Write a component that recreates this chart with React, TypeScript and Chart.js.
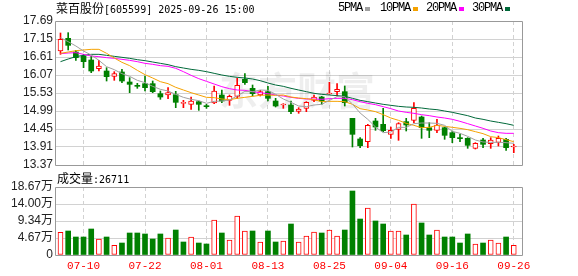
import React, { useEffect, useRef } from 'react';
import { Chart, registerables } from 'chart.js';
Chart.register(...registerables);

const dates = [
  '2025-07-07','2025-07-08','2025-07-09','2025-07-10','2025-07-11','2025-07-14','2025-07-15','2025-07-16','2025-07-17','2025-07-18',
  '2025-07-21','2025-07-22','2025-07-23','2025-07-24','2025-07-25','2025-07-28','2025-07-29','2025-07-30','2025-07-31','2025-08-01',
  '2025-08-04','2025-08-05','2025-08-06','2025-08-07','2025-08-08','2025-08-11','2025-08-12','2025-08-13','2025-08-14','2025-08-15',
  '2025-08-18','2025-08-19','2025-08-20','2025-08-21','2025-08-22','2025-08-25','2025-08-26','2025-08-27','2025-08-28','2025-08-29',
  '2025-09-01','2025-09-02','2025-09-03','2025-09-04','2025-09-05','2025-09-08','2025-09-09','2025-09-10','2025-09-11','2025-09-12',
  '2025-09-15','2025-09-16','2025-09-17','2025-09-18','2025-09-19','2025-09-22','2025-09-23','2025-09-24','2025-09-25','2025-09-26',
];

const opens = [
  16.79, 17.17, 16.76, 16.64, 16.52, 16.26, 16.19, 16.03, 16.16, 15.86,
  15.74, 15.81, 15.81, 15.51, 15.47, 15.48, 15.22, 15.19, 15.27, 15.13,
  15.23, 15.47, 15.31, 15.43, 15.94, 15.67, 15.47, 15.57, 15.29, 15.17,
  15.17, 14.98, 15.07, 15.31, 15.41, 15.50, 15.57, 15.57, 14.77, 14.15,
  14.07, 14.69, 14.59, 14.29, 14.44, 14.67, 14.71, 14.81, 14.49, 14.41,
  14.49, 14.34, 14.17, 14.17, 13.87, 14.12, 14.01, 14.05, 14.14, 13.91,
];
const highs = [
  17.33, 17.34, 16.81, 16.69, 16.64, 16.51, 16.29, 16.17, 16.24, 15.99,
  15.82, 16.04, 15.89, 15.59, 15.69, 15.58, 15.31, 15.41, 15.29, 15.19,
  15.74, 15.62, 15.47, 15.97, 16.11, 15.77, 15.61, 15.73, 15.37, 15.21,
  15.29, 15.09, 15.27, 15.47, 15.43, 15.85, 15.81, 15.74, 14.77, 14.19,
  14.59, 14.77, 15.07, 14.51, 14.64, 14.77, 15.24, 14.84, 14.64, 14.74,
  14.51, 14.39, 14.29, 14.19, 14.04, 14.17, 14.19, 14.24, 14.17, 13.99,
];
const lows = [
  16.69, 16.82, 16.51, 16.29, 16.14, 16.19, 15.89, 15.91, 15.84, 15.54,
  15.67, 15.59, 15.54, 15.34, 15.36, 15.09, 15.09, 15.04, 15.01, 15.07,
  15.21, 15.24, 15.16, 15.37, 15.79, 15.44, 15.44, 15.29, 15.11, 15.07,
  14.91, 14.92, 14.97, 15.27, 15.19, 15.49, 15.44, 15.14, 13.91, 13.89,
  13.89, 14.41, 14.37, 14.17, 14.11, 14.39, 14.64, 14.17, 14.19, 14.34,
  14.14, 14.04, 14.07, 13.87, 13.85, 13.89, 13.87, 13.94, 13.81, 13.74,
];
const closes = [
  17.14, 16.96, 16.59, 16.47, 16.19, 16.34, 16.02, 16.11, 15.89, 15.79,
  15.73, 15.69, 15.57, 15.41, 15.54, 15.25, 15.23, 15.29, 15.19, 15.12,
  15.59, 15.29, 15.43, 15.76, 15.84, 15.51, 15.57, 15.37, 15.14, 15.18,
  14.97, 15.05, 15.25, 15.41, 15.29, 15.53, 15.64, 15.24, 14.29, 13.95,
  14.56, 14.51, 14.40, 14.41, 14.61, 14.57, 15.07, 14.49, 14.41, 14.57,
  14.26, 14.19, 14.16, 13.96, 14.02, 13.99, 14.12, 14.17, 13.89, 13.92,
];
const volumes = [
  62300, 65900, 49400, 49400, 71400, 43900, 49400, 26600, 32900, 60400,
  60400, 57700, 43900, 57700, 46700, 68600, 35700, 49400, 32900, 30200,
  96100, 60400, 41200, 107100, 65900, 65900, 35700, 65900, 35700, 38400,
  85100, 35700, 52200, 63100, 60400, 68600, 52200, 68600, 175700, 98800,
  129000, 93400, 85100, 65900, 65900, 54900, 140000, 87900, 54900, 68600,
  49400, 49400, 32900, 57700, 30200, 32900, 41200, 32900, 49400, 26711,
];
const ma5 = [
  17.19, 17.07, 16.94, 16.79, 16.67, 16.51, 16.32, 16.23, 16.11, 16.03,
  15.91, 15.84, 15.73, 15.64, 15.59, 15.49, 15.40, 15.34, 15.30, 15.22,
  15.28, 15.29, 15.32, 15.44, 15.58, 15.57, 15.62, 15.61, 15.49, 15.35,
  15.25, 15.14, 15.12, 15.17, 15.19, 15.31, 15.42, 15.42, 15.20, 14.93,
  14.74, 14.51, 14.34, 14.36, 14.50, 14.50, 14.61, 14.63, 14.63, 14.62,
  14.56, 14.38, 14.32, 14.23, 14.12, 14.06, 14.05, 14.05, 14.04, 14.02,
];
const ma10 = [
  16.72, 16.76, 16.80, 16.82, 16.84, 16.84, 16.72, 16.58, 16.45, 16.35,
  16.21, 16.08, 15.98, 15.87, 15.81, 15.70, 15.62, 15.54, 15.47, 15.40,
  15.39, 15.35, 15.33, 15.37, 15.40, 15.43, 15.46, 15.47, 15.46, 15.47,
  15.41, 15.38, 15.36, 15.33, 15.27, 15.28, 15.28, 15.27, 15.19, 15.06,
  15.02, 14.97, 14.88, 14.78, 14.71, 14.62, 14.56, 14.49, 14.50, 14.56,
  14.53, 14.50, 14.47, 14.43, 14.37, 14.31, 14.22, 14.19, 14.13, 14.07,
];
const ma20 = [
  16.71, 16.73, 16.74, 16.69, 16.64, 16.62, 16.59, 16.57, 16.54, 16.51,
  16.47, 16.42, 16.39, 16.35, 16.33, 16.27, 16.17, 16.06, 15.96, 15.88,
  15.80, 15.72, 15.66, 15.62, 15.61, 15.57, 15.54, 15.51, 15.47, 15.44,
  15.40, 15.37, 15.35, 15.35, 15.34, 15.36, 15.37, 15.37, 15.33, 15.27,
  15.22, 15.18, 15.12, 15.06, 14.99, 14.95, 14.92, 14.88, 14.85, 14.81,
  14.78, 14.74, 14.68, 14.61, 14.54, 14.47, 14.39, 14.34, 14.32, 14.32,
];
const ma30 = [
  16.47, 16.55, 16.62, 16.66, 16.69, 16.69, 16.66, 16.63, 16.60, 16.57,
  16.53, 16.50, 16.46, 16.42, 16.38, 16.32, 16.28, 16.24, 16.21, 16.17,
  16.12, 16.07, 16.03, 16.00, 15.98, 15.95, 15.90, 15.83, 15.77, 15.73,
  15.67, 15.62, 15.57, 15.52, 15.49, 15.47, 15.45, 15.43, 15.37, 15.31,
  15.27, 15.23, 15.19, 15.16, 15.13, 15.11, 15.10, 15.08, 15.05, 15.03,
  14.99, 14.95, 14.90, 14.85, 14.78, 14.74, 14.69, 14.65, 14.61, 14.56,
];

const priceTicks = [13.37, 13.91, 14.45, 14.99, 15.53, 16.07, 16.61, 17.15, 17.69];
const volTicks = [0, 46675, 93350, 140025, 186700];
const volTickLabels = ['0', '4.67万', '9.34万', '14.00万', '18.67万'];
const dateTickIdx = [3, 11, 19, 27, 35, 43, 51, 59];
const stockName = '菜百股份';
const stockInfo = '[605599] 2025-09-26 15:00';
const volTitle = '成交量';
const lastVolume = 26711;
const maNames = ['5PMA', '10PMA', '20PMA', '30PMA'];
const watermark = '东方财富';

const RED = '#ff0000';
const GREEN = '#008000';
const MA_COLORS = ['#a0a0a0', '#f5a200', '#ff00ff', '#00693a'];
const GRID = '#d2d2d2';
const FRAME = '#999999';
const X_MIN = -0.585;
const X_MAX = 60.07;
const PLOT_RIGHT_PAD = 56;
const AXIS_W = 56;

const framePlugin = {
  id: 'frame',
  afterDraw(chart: any) {
    const { ctx, chartArea } = chart;
    const l = Math.round(chartArea.left) - 0.5;
    const t = Math.round(chartArea.top) + 0.5;
    const r = Math.round(chartArea.right) + 0.5;
    const b = Math.round(chartArea.bottom) + 0.5;
    ctx.save();
    ctx.strokeStyle = FRAME;
    ctx.lineWidth = 1;
    ctx.beginPath();
    ctx.moveTo(l, t); ctx.lineTo(r, t); ctx.lineTo(r, b); ctx.lineTo(l, b); ctx.closePath();
    ctx.stroke();
    ctx.restore();
  },
};

const watermarkPlugin = {
  id: 'watermark',
  beforeDatasetsDraw(chart: any) {
    const { ctx } = chart;
    ctx.save();
    ctx.font = 'bold 39px "Noto Sans CJK SC"';
    ctx.fillStyle = 'rgba(0,0,0,0.065)';
    ctx.textAlign = 'center';
    ctx.textBaseline = 'middle';
    ctx.fillText(watermark, 297, 90);
    ctx.restore();
  },
};

function zeroPad(scale: any) {
  scale.paddingTop = 0; scale.paddingBottom = 0; scale.paddingLeft = 0; scale.paddingRight = 0;
}

const isUp = (i: number) => closes[i] >= opens[i];
const volUp = (i: number) => (i === 0 ? isUp(0) : closes[i] >= closes[i - 1]);

function xScale(showLabels: boolean) {
  return {
    type: 'linear',
    min: X_MIN,
    max: X_MAX,
    offset: false,
    afterBuildTicks: (s: any) => { s.ticks = dateTickIdx.map((v) => ({ value: v })); },
    afterFit: (s: any) => { s.height = showLabels ? 21 : 0; zeroPad(s); },
    grid: { color: GRID, drawTicks: false, offset: false, lineWidth: 1 },
    border: { display: false, dash: [4, 3] },
    ticks: {
      display: showLabels,
      autoSkip: false,
      maxRotation: 0,
      padding: 4,
      color: RED,
      font: { family: '"Liberation Mono"', size: 11 },
      callback: (v: any) => dates[Math.round(v)].slice(5),
    },
  };
}

function PriceChart() {
  const ref = useRef<HTMLCanvasElement>(null);
  useEffect(() => {
    const mk = (arr: number[]) => arr.map((v, i) => ({ x: i, y: v }));
    const chart = new Chart(ref.current as HTMLCanvasElement, {
      type: 'bar',
      data: {
        datasets: [
          ...[ma5, ma10, ma20, ma30].map((arr, k) => ({
            type: 'line' as const,
            label: maNames[k],
            data: mk(arr),
            borderColor: MA_COLORS[k],
            borderWidth: 1,
            pointRadius: 0,
            tension: 0,
            order: 0,
          })),
          {
            type: 'bar' as const,
            label: 'body',
            data: opens.map((o, i) => ({ x: i, y: [Math.min(o, closes[i]), Math.max(o, closes[i])] })),
            backgroundColor: opens.map((_, i) => (isUp(i) ? '#ffffff' : GREEN)),
            borderColor: opens.map((_, i) => (isUp(i) ? RED : GREEN)),
            borderWidth: opens.map((_, i) => (isUp(i) ? 1 : 0)),
            borderSkipped: false,
            barThickness: 5,
            minBarLength: 1,
            grouped: false,
            order: 1,
          },
          {
            type: 'bar' as const,
            label: 'wick',
            data: lows.map((l, i) => ({ x: i, y: [l, highs[i]] })),
            backgroundColor: lows.map((_, i) => (isUp(i) ? RED : GREEN)),
            borderWidth: 0,
            barThickness: 1,
            grouped: false,
            order: 2,
          },
        ] as any,
      },
      options: {
        animation: false,
        responsive: false,
        devicePixelRatio: 1,
        layout: { padding: { top: 21, bottom: 3, left: 0, right: PLOT_RIGHT_PAD } },
        plugins: { legend: { display: false }, tooltip: { enabled: false } },
        scales: {
          x: xScale(false) as any,
          y: {
            type: 'linear',
            min: 13.37,
            max: 17.69,
            afterBuildTicks: (s: any) => { s.ticks = priceTicks.map((v) => ({ value: v })); },
            afterFit: (s: any) => { s.width = AXIS_W; zeroPad(s); },
            grid: { color: GRID, drawTicks: false, lineWidth: 1 },
            border: { display: false },
            ticks: {
              autoSkip: false,
              padding: 3,
              color: '#222',
              font: { family: '"Liberation Sans"', size: 12 },
              callback: (v: any) => Number(v).toFixed(2),
            },
          },
        },
      },
      plugins: [watermarkPlugin, framePlugin],
    } as any);
    return () => chart.destroy();
  }, []);
  return <canvas ref={ref} width={578} height={168} style={{ position: 'absolute', left: 0, top: 0, width: 578, height: 168 }} />;
}

function VolumeChart() {
  const ref = useRef<HTMLCanvasElement>(null);
  useEffect(() => {
    const chart = new Chart(ref.current as HTMLCanvasElement, {
      type: 'bar',
      data: {
        datasets: [
          {
            label: volTitle,
            data: volumes.map((v, i) => ({ x: i, y: v })),
            backgroundColor: volumes.map((_, i) => (volUp(i) ? '#ffffff' : GREEN)),
            borderColor: volumes.map((_, i) => (volUp(i) ? RED : GREEN)),
            borderWidth: volumes.map((_, i) => (volUp(i) ? 1 : 0)),
            borderSkipped: false,
            barThickness: 5,
            grouped: false,
          },
        ] as any,
      },
      options: {
        animation: false,
        responsive: false,
        devicePixelRatio: 1,
        layout: { padding: { top: 19, bottom: 0, left: 0, right: PLOT_RIGHT_PAD } },
        plugins: { legend: { display: false }, tooltip: { enabled: false } },
        scales: {
          x: xScale(true) as any,
          y: {
            type: 'linear',
            min: 0,
            max: volTicks[volTicks.length - 1],
            afterBuildTicks: (s: any) => { s.ticks = volTicks.map((v) => ({ value: v })); },
            afterFit: (s: any) => { s.width = AXIS_W; zeroPad(s); },
            grid: { color: GRID, drawTicks: false, lineWidth: 1 },
            border: { display: false },
            ticks: {
              autoSkip: false,
              padding: 3,
              color: '#222',
              font: { family: '"Liberation Sans", "Noto Sans CJK SC"', size: 12 },
              callback: (v: any) => volTickLabels[volTicks.indexOf(v)] ?? '',
            },
          },
        },
      },
      plugins: [framePlugin],
    } as any);
    return () => chart.destroy();
  }, []);
  return <canvas ref={ref} width={578} height={108} style={{ position: 'absolute', left: 0, top: 168, width: 578, height: 108 }} />;
}

const cjk: React.CSSProperties = { fontFamily: '"Noto Sans CJK SC"', fontSize: 12 };
const mono: React.CSSProperties = { fontFamily: '"DejaVu Sans Mono"', fontSize: 10 };

export default function App() {
  const legendX = [338, 380, 426, 472];
  const squareX = [365, 413, 459, 505];
  return (
    <div style={{ position: 'absolute', left: 0, top: 0, width: 578, height: 276, background: '#fff', overflow: 'hidden' }}>
      <PriceChart />
      <VolumeChart />
      <div style={{ position: 'absolute', left: 56, top: 0, lineHeight: '15px', whiteSpace: 'nowrap', color: '#000' }}>
        <span style={cjk}>{stockName}</span><span style={mono}>{stockInfo}</span>
      </div>
      {maNames.map((n, k) => (
        <React.Fragment key={n}>
          <div style={{ position: 'absolute', left: legendX[k], top: 1, fontFamily: '"Liberation Mono"', fontSize: 12, letterSpacing: '-1.2px', lineHeight: '15px', color: '#000', whiteSpace: 'nowrap' }}>{n}</div>
          <div style={{ position: 'absolute', left: squareX[k], top: 7, width: 5, height: 4, background: MA_COLORS[k] }} />
        </React.Fragment>
      ))}
      <div style={{ position: 'absolute', left: 57, top: 170, lineHeight: '15px', whiteSpace: 'nowrap', color: '#000' }}>
        <span style={cjk}>{volTitle}</span><span style={mono}>:{lastVolume}</span>
      </div>
    </div>
  );
}
